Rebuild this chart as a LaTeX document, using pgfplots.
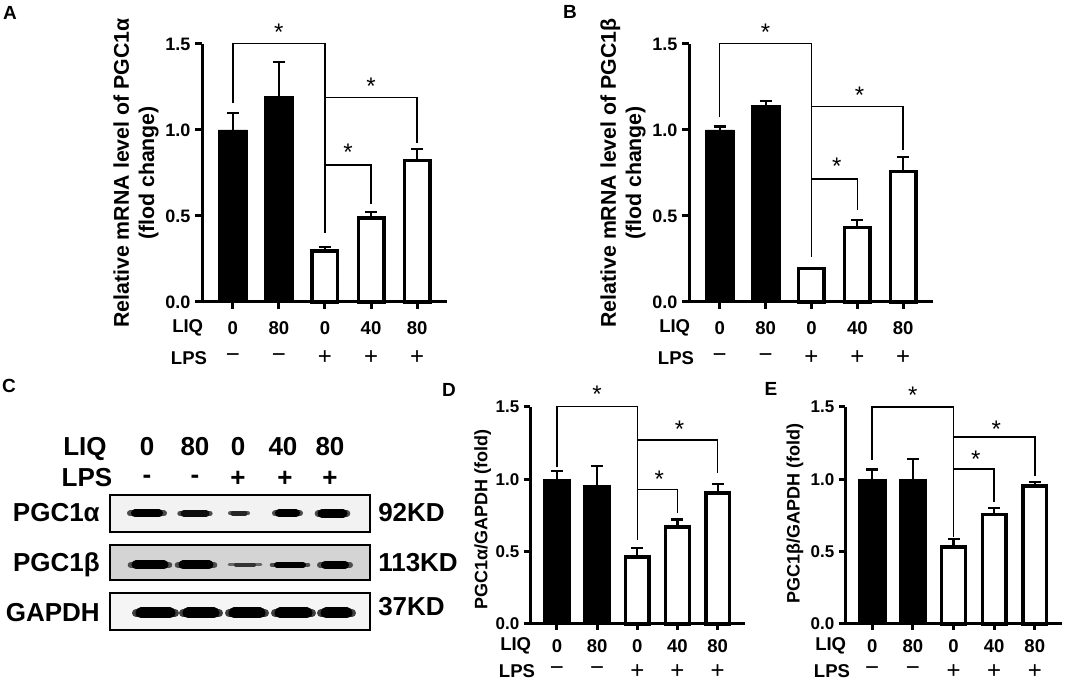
\documentclass[border=0pt]{standalone}
\usepackage{pgfplots}
\pgfplotsset{compat=1.18}
\usepackage{fontspec}
\setmainfont{Liberation Sans}
\pgfplotsset{
  barpanel/.style={
    scale only axis, anchor=south west, clip=false,
    axis x line=bottom, axis y line=left,
    axis line style={-, line width=2.25pt},
    every outer x axis line/.append style={-},
    every outer y axis line/.append style={-},
    ymin=0, ymax=1.5, ytick={0,0.5,1,1.5},
    xtick={0,1,2,3,4}, xticklabels={},
    tick align=outside, major tick length=5.25pt,
    tick style={line width=2.25pt, black},
    yticklabel style={/tikz/font=\fontsize{13.5pt}{16pt}\selectfont\bfseries,
      /pgf/number format/.cd, fixed, fixed zerofill, precision=1, assume math mode=true},
  },
  smallticks/.style={major tick length=4.5pt,
    yticklabel style={/tikz/font=\fontsize{12.75pt}{15pt}\selectfont\bfseries}},
  blackbar/.style={ybar, bar shift=0pt, fill=black, draw=black, line width=0.5pt,
    error bars/.cd, y dir=plus, y explicit,
    error bar style={line width=1.6pt, black},
    error mark options={rotate=90, mark size=4.5pt, line width=1.6pt, black}},
  whitebar/.style={ybar, bar shift=0pt, fill=white, draw=black, line width=2.6pt,
    error bars/.cd, y dir=plus, y explicit,
    error bar style={line width=1.6pt, black},
    error mark options={rotate=90, mark size=4.5pt, line width=1.6pt, black}},
  brk/.style={line width=1.1pt, black, mark=none},
  blot/.style={scale only axis, anchor=south west, width=195pt,
    xmin=110, xmax=370, ymin=-1, ymax=1, ticks=none,
    axis line style={line width=1.5pt}, clip=true},
}
\tikzset{
  lab/.style={font=\fontsize{13.9pt}{16pt}\selectfont\bfseries, inner sep=0pt},
  sgn/.style={font=\fontsize{18pt}{20pt}\selectfont, inner sep=0pt},
  star/.style={font=\fontsize{18pt}{20pt}\selectfont, inner sep=0pt},
  plet/.style={font=\fontsize{14.25pt}{16pt}\selectfont\bfseries, inner sep=0pt},
  big/.style={font=\fontsize{19.5pt}{22pt}\selectfont\bfseries, inner sep=0pt},
  ylab2/.style={align=center, font=\fontsize{16pt}{19pt}\selectfont\bfseries},
}
\begin{document}
\begin{tikzpicture}
\useasboundingbox (0,0) rectangle (798.75pt,513.75pt);

% ---------------- Panel A ----------------
\begin{axis}[barpanel, at={(151.5pt,287.25pt)}, width=183.75pt, height=193.5pt,
  xmin=-0.67, xmax=4.65]
\addplot[bar width=0.63, blackbar] coordinates {(0,1.0) +- (0,0.097) (1,1.194) +- (0,0.203)};
\addplot[bar width=0.554, whitebar] coordinates {(2,0.297) +- (0,0.025) (3,0.487) +- (0,0.034) (4,0.822) +- (0,0.068)};
\addplot[brk] coordinates {(0,1.155) (0,1.504) (2,1.504) (2,0.40)};
\addplot[brk] coordinates {(2,1.188) (4,1.188) (4,0.926)};
\addplot[brk] coordinates {(2,0.797) (3,0.797) (3,0.57)};
\node[star] at (axis cs:1,1.568) {*};
\node[star] at (axis cs:3,1.252) {*};
\node[star] at (axis cs:2.5,0.868) {*};
\node[xshift=-49.5pt, rotate=90, ylab2]
  at (rel axis cs:0,0.5) {Relative mRNA level of PGC1α\\(flod change)};
\node[lab, anchor=west, xshift=-22.5pt, yshift=-19.5pt] at (rel axis cs:0,0) {LIQ};
\node[lab, anchor=west, xshift=-23.5pt, yshift=-42pt] at (rel axis cs:0,0) {LPS};
\node[lab, yshift=-19.5pt] at (axis cs:0,0) {0};
\node[lab, yshift=-19.5pt] at (axis cs:1,0) {80};
\node[lab, yshift=-19.5pt] at (axis cs:2,0) {0};
\node[lab, yshift=-19.5pt] at (axis cs:3,0) {40};
\node[lab, yshift=-19.5pt] at (axis cs:4,0) {80};
\node[sgn, yshift=-42pt] at (axis cs:0,0) {−};
\node[sgn, yshift=-42pt] at (axis cs:1,0) {−};
\node[sgn, yshift=-42pt] at (axis cs:2,0) {+};
\node[sgn, yshift=-42pt] at (axis cs:3,0) {+};
\node[sgn, yshift=-42pt] at (axis cs:4,0) {+};
\end{axis}

% ---------------- Panel B ----------------
\begin{axis}[barpanel, at={(516.75pt,287.25pt)}, width=183pt, height=193.5pt,
  xmin=-0.67, xmax=4.65]
\addplot[bar width=0.63, blackbar] coordinates {(0,1.0) +- (0,0.02) (1,1.143) +- (0,0.027)};
\addplot[bar width=0.554, whitebar] coordinates {(2,0.194) +- (0,0.006) (3,0.432) +- (0,0.045) (4,0.758) +- (0,0.087)};
\addplot[brk] coordinates {(0,1.074) (0,1.504) (2,1.504) (2,0.26)};
\addplot[brk] coordinates {(2,1.136) (4,1.136) (4,0.884)};
\addplot[brk] coordinates {(2,0.715) (3,0.715) (3,0.535)};
\node[star] at (axis cs:1,1.568) {*};
\node[star] at (axis cs:3.05,1.203) {*};
\node[star] at (axis cs:2.55,0.79) {*};
\node[xshift=-49.5pt, rotate=90, ylab2]
  at (rel axis cs:0,0.5) {Relative mRNA level of PGC1β\\(flod change)};
\node[lab, anchor=west, xshift=-22.5pt, yshift=-19.5pt] at (rel axis cs:0,0) {LIQ};
\node[lab, anchor=west, xshift=-23.5pt, yshift=-42pt] at (rel axis cs:0,0) {LPS};
\node[lab, yshift=-19.5pt] at (axis cs:0,0) {0};
\node[lab, yshift=-19.5pt] at (axis cs:1,0) {80};
\node[lab, yshift=-19.5pt] at (axis cs:2,0) {0};
\node[lab, yshift=-19.5pt] at (axis cs:3,0) {40};
\node[lab, yshift=-19.5pt] at (axis cs:4,0) {80};
\node[sgn, yshift=-42pt] at (axis cs:0,0) {−};
\node[sgn, yshift=-42pt] at (axis cs:1,0) {−};
\node[sgn, yshift=-42pt] at (axis cs:2,0) {+};
\node[sgn, yshift=-42pt] at (axis cs:3,0) {+};
\node[sgn, yshift=-42pt] at (axis cs:4,0) {+};
\end{axis}

% ---------------- Panel D ----------------
\begin{axis}[barpanel, smallticks, at={(397.5pt,45.75pt)}, width=161.25pt, height=162.75pt,
  xmin=-0.67, xmax=4.68]
\addplot[bar width=0.67, blackbar] coordinates {(0,1.0) +- (0,0.06) (1,0.956) +- (0,0.137)};
\addplot[bar width=0.585, whitebar] coordinates {(2,0.463) +- (0,0.062) (3,0.671) +- (0,0.051) (4,0.907) +- (0,0.058)};
\addplot[brk] coordinates {(0,1.083) (0,1.505) (2,1.505) (2,0.579)};
\addplot[brk] coordinates {(2,1.273) (4,1.273) (4,1.042)};
\addplot[brk] coordinates {(2,0.93) (3,0.93) (3,0.764)};
\node[star] at (axis cs:1,1.585) {*};
\node[star] at (axis cs:3.05,1.347) {*};
\node[star] at (axis cs:2.55,1.0) {*};
\node[xshift=-35.5pt, rotate=90, font=\fontsize{13.5pt}{16pt}\selectfont\bfseries]
  at (rel axis cs:0,0.48) {PGC1α/GAPDH (fold)};
\node[lab, anchor=west, xshift=-22.5pt, yshift=-16.5pt] at (rel axis cs:0,0) {LIQ};
\node[lab, anchor=west, xshift=-23.5pt, yshift=-35.6pt] at (rel axis cs:0,0) {LPS};
\node[lab, yshift=-16.5pt] at (axis cs:0,0) {0};
\node[lab, yshift=-16.5pt] at (axis cs:1,0) {80};
\node[lab, yshift=-16.5pt] at (axis cs:2,0) {0};
\node[lab, yshift=-16.5pt] at (axis cs:3,0) {40};
\node[lab, yshift=-16.5pt] at (axis cs:4,0) {80};
\node[sgn, yshift=-35.6pt] at (axis cs:0,0) {−};
\node[sgn, yshift=-35.6pt] at (axis cs:1,0) {−};
\node[sgn, yshift=-35.6pt] at (axis cs:2,0) {+};
\node[sgn, yshift=-35.6pt] at (axis cs:3,0) {+};
\node[sgn, yshift=-35.6pt] at (axis cs:4,0) {+};
\end{axis}

% ---------------- Panel E ----------------
\begin{axis}[barpanel, smallticks, at={(633.75pt,45.75pt)}, width=162.75pt, height=162.75pt,
  xmin=-0.67, xmax=4.67]
\addplot[bar width=0.67, blackbar] coordinates {(0,0.999) +- (0,0.069) (1,1.0) +- (0,0.139)};
\addplot[bar width=0.585, whitebar] coordinates {(2,0.531) +- (0,0.055) (3,0.758) +- (0,0.042) (4,0.953) +- (0,0.03)};
\addplot[brk] coordinates {(0,1.133) (0,1.5) (2,1.5) (2,0.604)};
\addplot[brk] coordinates {(2,1.293) (4,1.293) (4,1.025)};
\addplot[brk] coordinates {(2,1.07) (3,1.07) (3,0.845)};
\node[star] at (axis cs:1,1.58) {*};
\node[star] at (axis cs:3.05,1.346) {*};
\node[star] at (axis cs:2.55,1.14) {*};
\node[xshift=-37.5pt, rotate=90, font=\fontsize{13.5pt}{16pt}\selectfont\bfseries]
  at (rel axis cs:0,0.51) {PGC1β/GAPDH (fold)};
\node[lab, anchor=west, xshift=-22.5pt, yshift=-16.5pt] at (rel axis cs:0,0) {LIQ};
\node[lab, anchor=west, xshift=-23.5pt, yshift=-35.6pt] at (rel axis cs:0,0) {LPS};
\node[lab, yshift=-16.5pt] at (axis cs:0,0) {0};
\node[lab, yshift=-16.5pt] at (axis cs:1,0) {80};
\node[lab, yshift=-16.5pt] at (axis cs:2,0) {0};
\node[lab, yshift=-16.5pt] at (axis cs:3,0) {40};
\node[lab, yshift=-16.5pt] at (axis cs:4,0) {80};
\node[sgn, yshift=-35.6pt] at (axis cs:0,0) {−};
\node[sgn, yshift=-35.6pt] at (axis cs:1,0) {−};
\node[sgn, yshift=-35.6pt] at (axis cs:2,0) {+};
\node[sgn, yshift=-35.6pt] at (axis cs:3,0) {+};
\node[sgn, yshift=-35.6pt] at (axis cs:4,0) {+};
\end{axis}

% ---------------- Panel C (blot) ----------------
\begin{axis}[blot, at={(82.5pt,114.75pt)}, height=27.75pt,
  axis background/.style={fill=black!5}]
\addplot[line width=4.5pt, black!70, line cap=round] coordinates {(130,0) (164,0)};
\addplot[line width=6pt, black, line cap=round] coordinates {(135,0) (159,0)};
\addplot[line width=4pt, black!70, line cap=round] coordinates {(180,0) (210,0)};
\addplot[line width=5.25pt, black!95, line cap=round] coordinates {(184,0) (206,0)};
\addplot[line width=3pt, black!65, line cap=round] coordinates {(230,0) (248,0)};
\addplot[line width=3.75pt, black!85, line cap=round] coordinates {(233,0) (245,0)};
\addplot[line width=4.5pt, black!70, line cap=round] coordinates {(275,0) (300,0)};
\addplot[line width=6pt, black, line cap=round] coordinates {(279,0) (296,0)};
\addplot[line width=5pt, black!70, line cap=round] coordinates {(318,0) (347,0)};
\addplot[line width=6.75pt, black, line cap=round] coordinates {(322,0) (343,0)};
\end{axis}

\begin{axis}[blot, at={(82.5pt,78.75pt)}, height=26.25pt,
  axis background/.style={fill=black!17}]
\addplot[line width=5pt, black!70, line cap=round] coordinates {(131,-0.14) (169,-0.14)};
\addplot[line width=6.75pt, black, line cap=round] coordinates {(136,-0.14) (164,-0.14)};
\addplot[line width=5pt, black!70, line cap=round] coordinates {(178,-0.14) (214,-0.14)};
\addplot[line width=6.75pt, black, line cap=round] coordinates {(183,-0.14) (209,-0.14)};
\addplot[line width=2.2pt, black!60, line cap=round] coordinates {(229,-0.14) (261,-0.14)};
\addplot[line width=3pt, black!80, line cap=round] coordinates {(236,-0.14) (254,-0.14)};
\addplot[line width=3.5pt, black!70, line cap=round] coordinates {(272,-0.14) (308,-0.14)};
\addplot[line width=4.5pt, black, line cap=round] coordinates {(277,-0.14) (303,-0.14)};
\addplot[line width=4.5pt, black!70, line cap=round] coordinates {(320,-0.14) (350,-0.14)};
\addplot[line width=6pt, black, line cap=round] coordinates {(325,-0.14) (345,-0.14)};
\end{axis}

\begin{axis}[blot, at={(82.5pt,41.25pt)}, height=27.75pt,
  axis background/.style={fill=black!4}]
\addplot[line width=6pt, black!75, line cap=round] coordinates {(136,-0.08) (175,-0.08)};
\addplot[line width=8.25pt, black, line cap=round] coordinates {(141,-0.08) (170,-0.08)};
\addplot[line width=6pt, black!75, line cap=round] coordinates {(183,-0.08) (219,-0.08)};
\addplot[line width=8.25pt, black, line cap=round] coordinates {(188,-0.08) (214,-0.08)};
\addplot[line width=6pt, black!75, line cap=round] coordinates {(229,-0.08) (265,-0.08)};
\addplot[line width=8.25pt, black, line cap=round] coordinates {(234,-0.08) (260,-0.08)};
\addplot[line width=6pt, black!75, line cap=round] coordinates {(275,-0.08) (312,-0.08)};
\addplot[line width=8.25pt, black, line cap=round] coordinates {(280,-0.08) (307,-0.08)};
\addplot[line width=6pt, black!75, line cap=round] coordinates {(321,-0.08) (352,-0.08)};
\addplot[line width=8.25pt, black, line cap=round] coordinates {(326,-0.08) (347,-0.08)};
\end{axis}

% ---------------- texts of panel C and panel letters ----------------
\node[big, anchor=base] at (63.75pt,171.75pt) {LIQ};
\node[big, anchor=base] at (110.25pt,171.75pt) {0};
\node[big, anchor=base] at (146.25pt,171.75pt) {80};
\node[big, anchor=base] at (178.5pt,171.75pt) {0};
\node[big, anchor=base] at (212.25pt,171.75pt) {40};
\node[big, anchor=base] at (247.5pt,171.75pt) {80};
\node[big, anchor=base] at (65.25pt,148.5pt) {LPS};
\node[big] at (110.25pt,154.5pt) {-};
\node[big] at (146.25pt,154.5pt) {-};
\node[big] at (178.5pt,154.5pt) {+};
\node[big] at (213.75pt,154.5pt) {+};
\node[big] at (247.5pt,154.5pt) {+};
\node[big, anchor=base east] at (75pt,122.25pt) {PGC1α};
\node[big, anchor=base east] at (75pt,84.75pt) {PGC1β};
\node[big, anchor=base east] at (75pt,47.25pt) {GAPDH};
\node[big, anchor=base west] at (283.5pt,122.25pt) {92KD};
\node[big, anchor=base west] at (283.5pt,84.75pt) {113KD};
\node[big, anchor=base west] at (283.5pt,51.75pt) {37KD};

\node[plet] at (7.5pt,504pt) {A};
\node[plet] at (427.5pt,504.75pt) {B};
\node[plet] at (6.75pt,224.25pt) {C};
\node[plet] at (336.75pt,221.25pt) {D};
\node[plet] at (578.25pt,222pt) {E};
\end{tikzpicture}
\end{document}
